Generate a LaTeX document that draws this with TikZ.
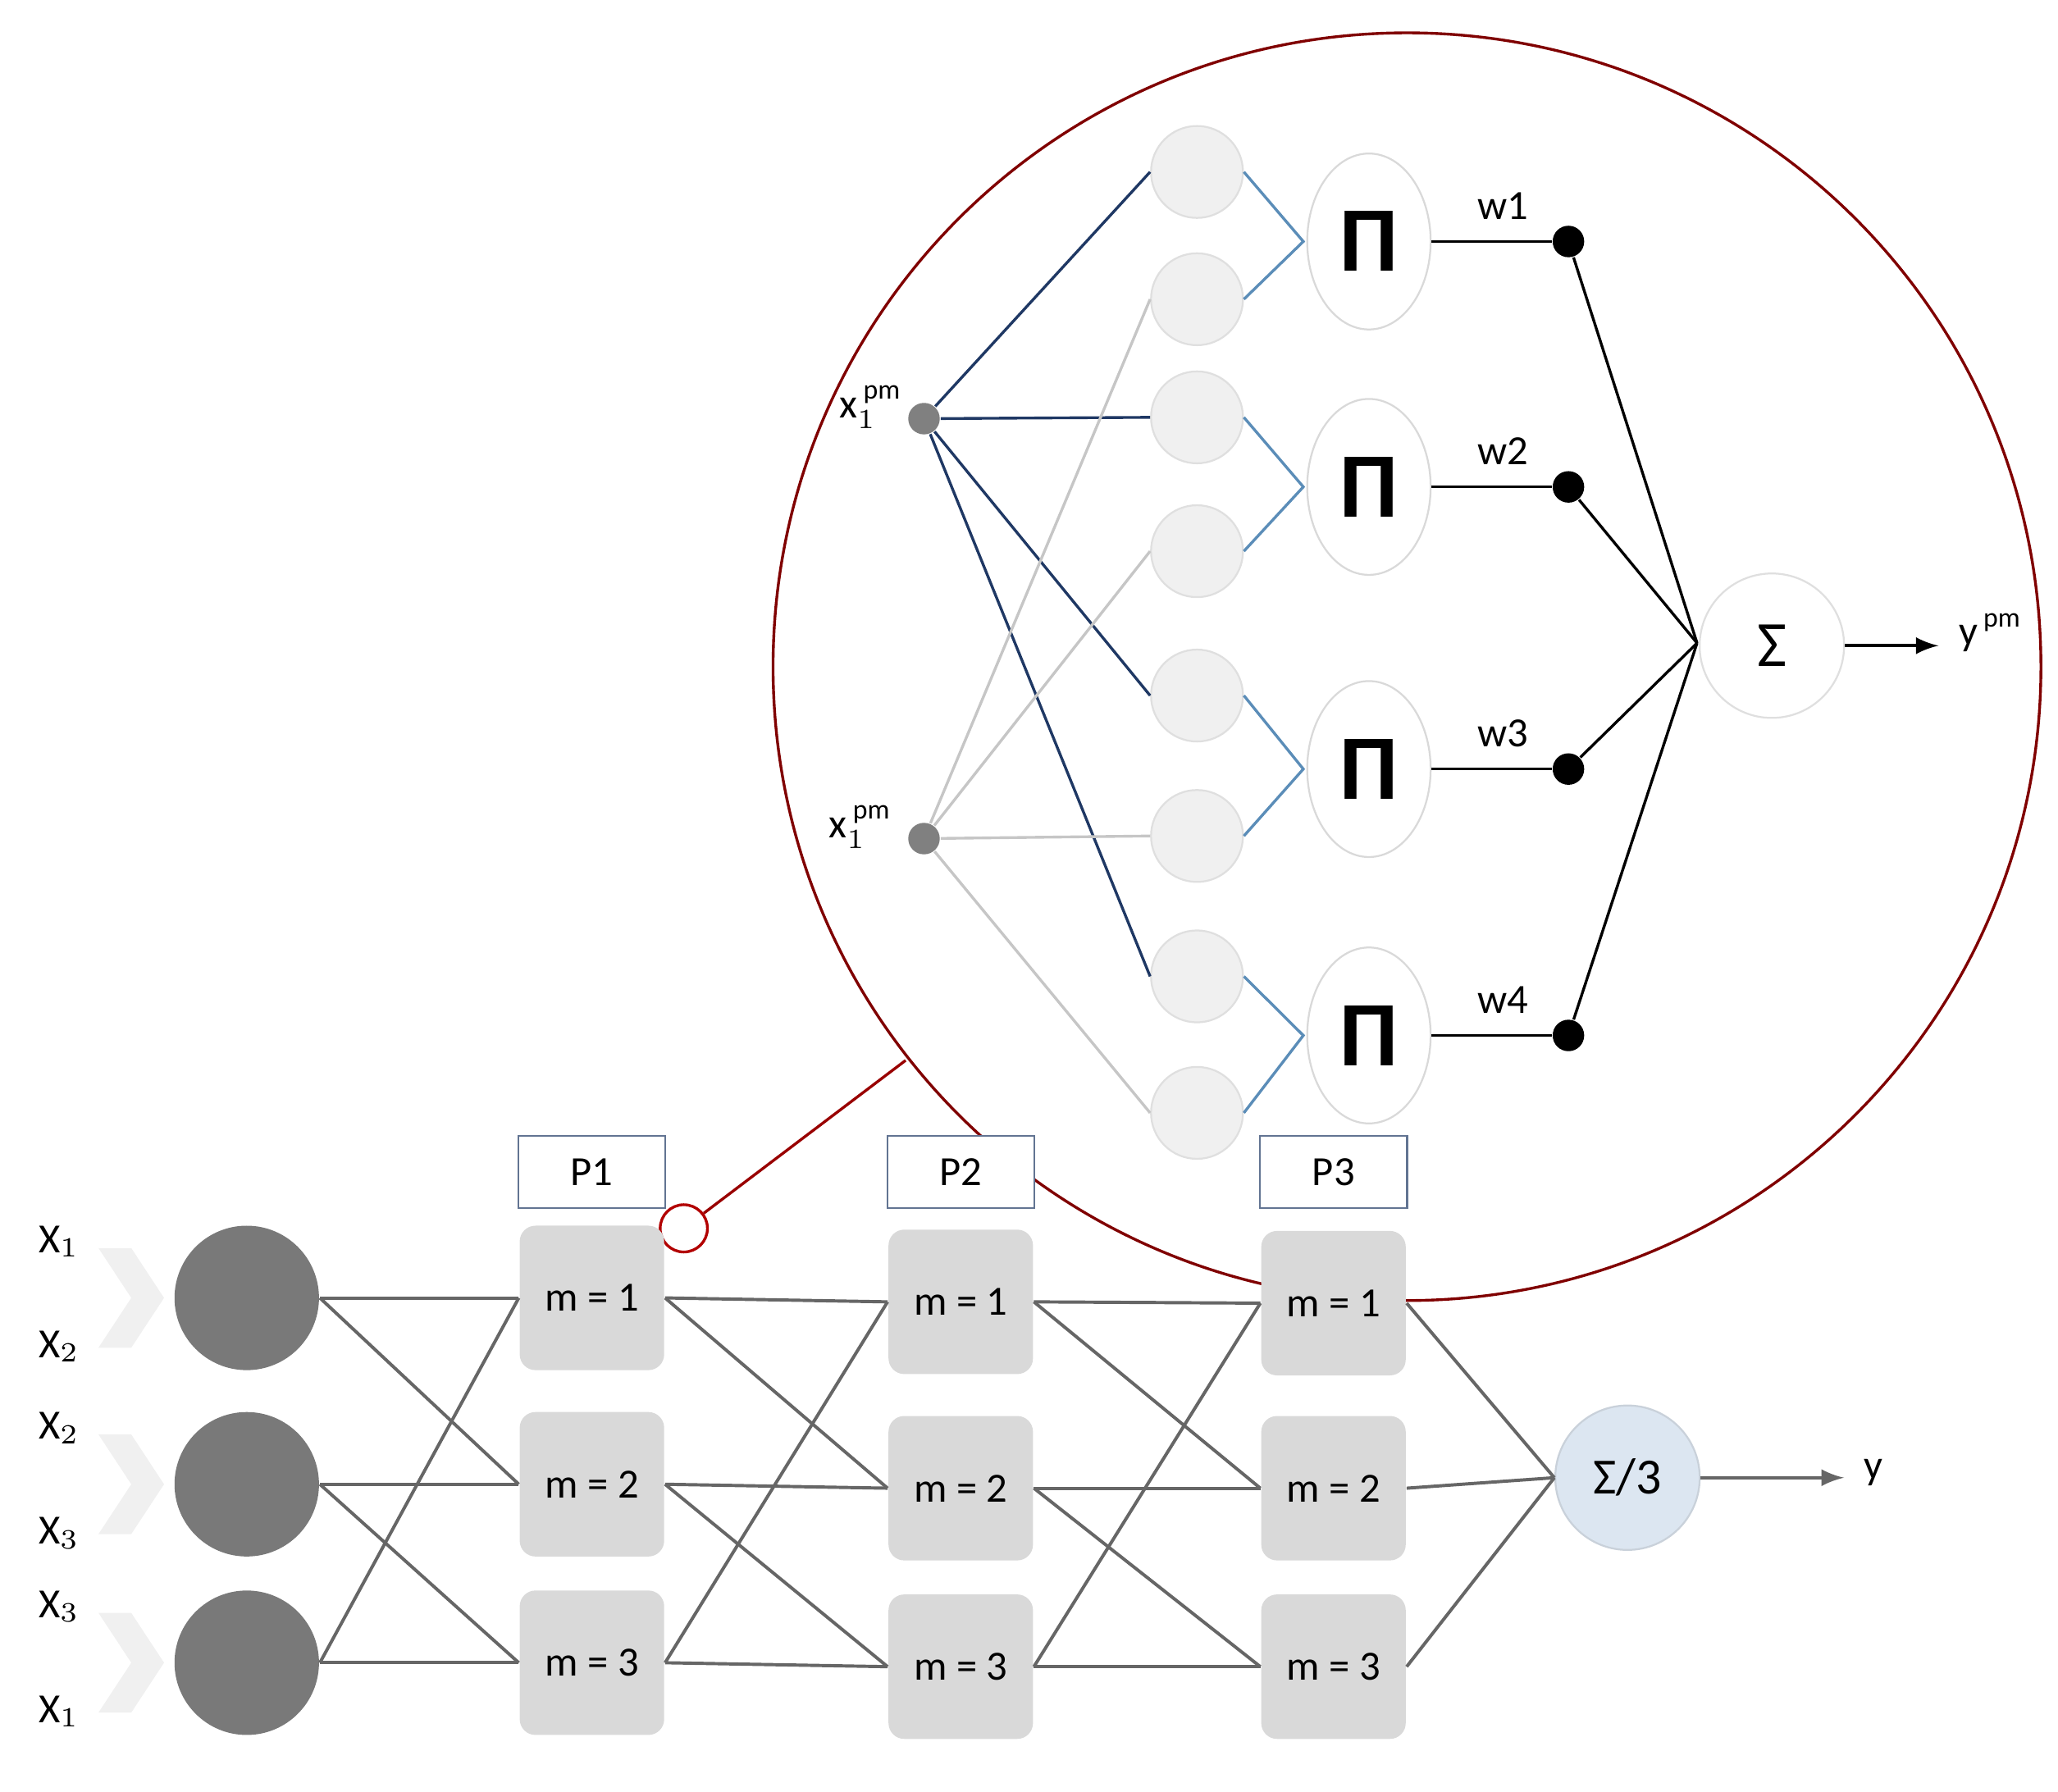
\documentclass[tikz,border=0pt]{standalone}
\usepackage{fontspec}
\setmainfont{Carlito}
\usetikzlibrary{shapes.geometric}
\definecolor{steel}{HTML}{5B8DB8}
\definecolor{navy}{HTML}{1F3864}
\definecolor{lblue}{HTML}{DCE6F1}
\begin{document}
\begin{tikzpicture}[x=0.01cm,y=-0.01cm,
  mf/.style={circle,fill=gray!12,draw=gray!25,minimum size=0.7cm,inner sep=0},
  pi/.style={ellipse,draw=gray!30,fill=white,minimum width=0.94cm,minimum height=1.34cm,inner sep=0,font=\fontsize{20}{20}\selectfont\bfseries},
  dot/.style={circle,fill=black,minimum size=0.24cm,inner sep=0},
  gdot/.style={circle,fill=gray,minimum size=0.24cm,inner sep=0},
  box/.style={rounded corners=0.12cm,fill=gray!30,minimum size=1.1cm,inner sep=0,font=\fontsize{9}{9}\selectfont},
  plab/.style={draw=navy!70,fill=white,minimum width=1.12cm,minimum height=0.55cm,inner sep=0,font=\fontsize{9}{9}\selectfont},
  inc/.style={circle,fill=gray!95!black,minimum size=1.1cm,inner sep=0},
  gl/.style={draw=gray!80!black,line width=0.7pt},
  lab/.style={font=\fontsize{9}{9}\selectfont}]
\useasboundingbox (0,0) rectangle (1568,1365);
% big circle
\draw[red!50!black,line width=0.6pt] (1072,508) circle[radius=483];
\coordinate (ce) at (690,808);
\node[circle,draw=red!70!black,fill=white,minimum size=0.36cm,inner sep=0,line width=0.6pt] (oc) at (521,936) {};
\draw[red!60!black,line width=0.6pt] (ce) -- (oc);
% inputs
\node[gdot] (xa) at (704,319) {};
\node[gdot] (xb) at (704,639) {};
\node[lab,anchor=east] at (700,310) {x$_{\scriptstyle 1}^{\,\mathrm{pm}}$};
\node[lab,anchor=east] at (692,630) {x$_{\scriptstyle 1}^{\,\mathrm{pm}}$};
% MFs
\foreach \i/\y in {1/131,2/228,3/318,4/420,5/530,6/637,7/744,8/848}
  \node[mf] (m\i) at (912,\y) {};
\foreach \i in {1,3,5,7} \draw[navy,line width=0.6pt] (xa) -- (m\i.west);
\foreach \i in {2,4,6,8} \draw[gray!45,line width=0.6pt] (xb) -- (m\i.west);
% Pi nodes
\foreach \k/\y/\a/\b/\w in {1/184/1/2/w1,2/371/3/4/w2,3/586/5/6/w3,4/789/7/8/w4}{
  \node[pi] (p\k) at (1043,\y) {Π};
  \coordinate (j\k) at (993,\y);
  \draw[steel,line width=0.6pt] (m\a.east) -- (j\k) -- (m\b.east);
  \node[dot] (d\k) at (1195,\y) {};
  \draw[line width=0.6pt] (p\k) -- (d\k);
  \node[lab] at (1145,\y-27) {\w};
}
\node[circle,draw=gray!25,fill=white,minimum size=1.1cm,inner sep=0,font=\fontsize{14}{14}\selectfont] (S) at (1350,492) {Σ};
\coordinate (sj) at (1293,490);
\foreach \k in {1,...,4} \draw[line width=0.6pt] (d\k) -- (sj);
\coordinate (ya) at (1477,492);
\draw[-latex,line width=0.7pt] (S) -- (ya);
\node[lab,anchor=west] at (1480,482) {y$^{\,\scriptstyle\mathrm{pm}}$};
% bottom
\foreach \i/\y/\la/\lb in {1/989/1/2,2/1131/2/3,3/1267/3/1}{
  \fill[gray!12] (75,\y-38) -- (100,\y-38) -- (125,\y) -- (100,\y+38) -- (75,\y+38) -- (100,\y) -- cycle;
  \node[inc] (c\i) at (188,\y) {};
  \node[lab] at (45,\y-43) {X$_{\la}$};
  \node[lab] at (45,\y+37) {X$_{\lb}$};
}
\foreach \c/\x/\ya/\yb/\yc in {1/451/989/1131/1267,2/732/992/1134/1270,3/1016/993/1134/1270}{
  \node[box] (b\c1) at (\x,\ya) {m = 1};
  \node[box] (b\c2) at (\x,\yb) {m = 2};
  \node[box] (b\c3) at (\x,\yc) {m = 3};
  \node[plab] (P\c) at (\x,893) {P\c};
}
\draw[gl] (c1.east) -- (b11.west); \draw[gl] (c1.east) -- (b12.west);
\draw[gl] (c2.east) -- (b12.west); \draw[gl] (c2.east) -- (b13.west);
\draw[gl] (c3.east) -- (b13.west); \draw[gl] (c3.east) -- (b11.west);
\foreach \a/\b in {1/2,2/3}{
  \draw[gl] (b\a1.east) -- (b\b1.west); \draw[gl] (b\a1.east) -- (b\b2.west);
  \draw[gl] (b\a2.east) -- (b\b2.west); \draw[gl] (b\a2.east) -- (b\b3.west);
  \draw[gl] (b\a3.east) -- (b\b3.west); \draw[gl] (b\a3.east) -- (b\b1.west);
}
\node[circle,fill=lblue,draw=lblue!80!gray,minimum size=1.1cm,inner sep=0,font=\fontsize{11}{11}\selectfont] (T) at (1240,1126) {Σ/3};
\foreach \i in {1,2,3} \draw[gl] (b3\i.east) -- (T.west);
\coordinate (yo) at (1405,1126);
\draw[gl,-latex] (T) -- (yo);
\node[lab,anchor=west] at (1408,1122) {y};
\end{tikzpicture}
\end{document}
